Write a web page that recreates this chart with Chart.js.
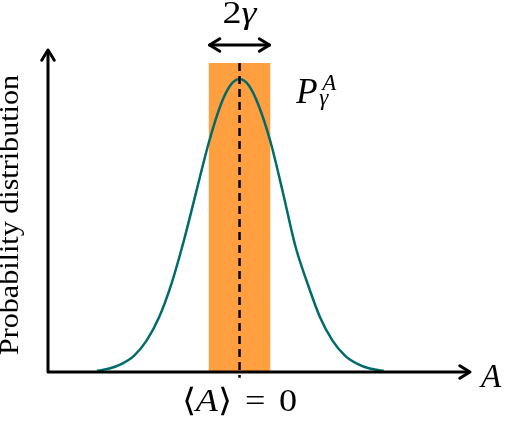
<!DOCTYPE html>
<html>
<head>
<meta charset="utf-8">
<script src="https://cdn.jsdelivr.net/npm/chart.js@4/dist/chart.umd.min.js"></script>
<style>
  html, body { margin: 0; padding: 0; background: #fff; }
  #wrap { width: 508px; height: 422px; }
</style>
</head>
<body>
<div id="wrap"><canvas id="chart" width="508" height="422"></canvas></div>
<script>
// Curve (x in units of gamma, y relative to the peak)
const curveX = [-4.6, -4.2, -3.8, -3.4, -3.0, -2.6, -2.2, -1.8, -1.4, -1.0, -0.6, -0.3, 0,
                0.3, 0.6, 1.0, 1.4, 1.8, 2.2, 2.6, 3.0, 3.4, 3.8, 4.2, 4.65];
const curveY = [0.004, 0.012, 0.028, 0.056, 0.107, 0.186, 0.300, 0.447, 0.614, 0.780, 0.914, 0.978, 1.0,
                0.978, 0.914, 0.785, 0.612, 0.430, 0.300, 0.186, 0.107, 0.056, 0.028, 0.012, 0.004];
// Shaded band of width 2*gamma around the mean
const bandX = [-1, 1];
const bandTop = [1.055, 1.055];
// Mean marker (dashed line)
const meanX = [0, 0];
const meanY = [1.055, -0.02];
// Axis ranges
const xRange = [-6.18, 7.435];
const yRange = [0, 1.099];
// Texts
const yTitle = 'Probability distribution';
const xTitle = 'A';

function font(size, italic) {
    return (italic ? 'italic ' : '') + size + 'px "Liberation Serif"';
}

// draw a row of text pieces (some italic, some gaps), centred on cx and
// stretched to the given width
function drawRuns(ctx, runs, cx, baseline, width) {
    let total = 0;
    runs.forEach(r => {
        if (r.gap) { total += r.gap; return; }
        ctx.font = font(r.size, r.it);
        total += ctx.measureText(r.t).width;
    });
    ctx.save();
    ctx.translate(cx, baseline);
    ctx.scale(width ? width / total : 1, 1);
    ctx.textAlign = 'left';
    ctx.textBaseline = 'alphabetic';
    let xPos = -total / 2;
    runs.forEach(r => {
        if (r.gap) { xPos += r.gap; return; }
        ctx.font = font(r.size, r.it);
        ctx.fillText(r.t, xPos, 0);
        xPos += ctx.measureText(r.t).width;
    });
    ctx.restore();
}

function arrowHead(ctx, tx, ty, angle) {
    const len = 12, spread = 0.55;
    ctx.beginPath();
    ctx.moveTo(tx - len * Math.cos(angle - spread), ty - len * Math.sin(angle - spread));
    ctx.lineTo(tx, ty);
    ctx.lineTo(tx - len * Math.cos(angle + spread), ty - len * Math.sin(angle + spread));
    ctx.stroke();
}

const overlay = {
    id: 'overlay',
    afterDatasetsDraw(chart) {
        const { ctx, scales: { x, y } } = chart;
        const x0 = x.getPixelForValue(xRange[0]);
        const y0 = y.getPixelForValue(0);
        ctx.save();
        ctx.strokeStyle = '#000';
        ctx.fillStyle = '#000';
        ctx.lineWidth = 3;
        ctx.lineJoin = 'round';
        ctx.lineCap = 'round';

        // axes
        ctx.beginPath();
        ctx.moveTo(x0, y0);
        ctx.lineTo(x.right - 1, y0);
        ctx.moveTo(x0, y0);
        ctx.lineTo(x0, y.top + 1);
        ctx.stroke();
        arrowHead(ctx, x.right, y0, 0);
        arrowHead(ctx, x0, y.top, -Math.PI / 2);

        // 2 gamma double arrow
        const ay = y.getPixelForValue(1.116);
        const ax1 = x.getPixelForValue(bandX[0]) + 1;
        const ax2 = x.getPixelForValue(bandX[1]) - 1;
        ctx.beginPath();
        ctx.moveTo(ax1, ay);
        ctx.lineTo(ax2, ay);
        ctx.stroke();
        arrowHead(ctx, ax2, ay, 0);
        arrowHead(ctx, ax1, ay, Math.PI);

        const cx = x.getPixelForValue(0);
        drawRuns(ctx, [{ t: '2', size: 31 }, { t: 'γ', it: true, size: 31 }], cx, 23, 34);

        // mean label
        drawRuns(ctx, [
            { t: '⟨', size: 32 },
            { t: 'A', it: true, size: 32 },
            { t: '⟩', size: 32 },
            { gap: 12 },
            { t: '=', size: 32 },
            { gap: 12 },
            { t: '0', size: 32 }
        ], cx, 411, 115);

        // P_gamma^A
        const px = x.getPixelForValue(1.89);
        ctx.textAlign = 'left';
        ctx.textBaseline = 'alphabetic';
        ctx.font = font(35, true);
        ctx.fillText('P', px - 2, 103);
        ctx.font = font(23, true);
        ctx.fillText('A', px + 24, 90);
        ctx.fillText('γ', px + 21, 105);

        // x axis title
        ctx.font = font(33, true);
        ctx.fillText(xTitle, x.right + 11, y0 + 15);

        // y axis title
        ctx.save();
        ctx.translate(18, 215);
        ctx.rotate(-Math.PI / 2);
        ctx.font = font(27, false);
        const tw = ctx.measureText(yTitle).width;
        ctx.scale(280 / tw, 1);
        ctx.textAlign = 'center';
        ctx.fillText(yTitle, 0, 0);
        ctx.restore();

        ctx.restore();
    }
};

new Chart(document.getElementById('chart'), {
    type: 'line',
    data: {
        datasets: [
            {
                label: 'mean',
                data: meanX.map((v, i) => ({ x: v, y: meanY[i] })),
                borderColor: '#000',
                borderWidth: 2.5,
                borderDash: [8, 5],
                pointRadius: 0,
                tension: 0,
                clip: false
            },
            {
                label: 'P',
                data: curveX.map((v, i) => ({ x: v, y: curveY[i] })),
                borderColor: '#006b6b',
                borderWidth: 2.5,
                pointRadius: 0,
                cubicInterpolationMode: 'monotone',
                fill: false
            },
            {
                label: 'band',
                data: bandX.map((v, i) => ({ x: v, y: bandTop[i] })),
                borderWidth: 0,
                borderColor: 'rgba(0,0,0,0)',
                backgroundColor: '#ff9f40',
                pointRadius: 0,
                tension: 0,
                fill: 'origin'
            }
        ]
    },
    options: {
        responsive: false,
        animation: false,
        devicePixelRatio: 1,
        layout: { padding: { left: 48, right: 38, top: 50, bottom: 50 } },
        plugins: {
            legend: { display: false },
            tooltip: { enabled: false }
        },
        scales: {
            x: { type: 'linear', min: xRange[0], max: xRange[1], display: false },
            y: { type: 'linear', min: yRange[0], max: yRange[1], display: false }
        }
    },
    plugins: [overlay]
});
</script>
</body>
</html>
